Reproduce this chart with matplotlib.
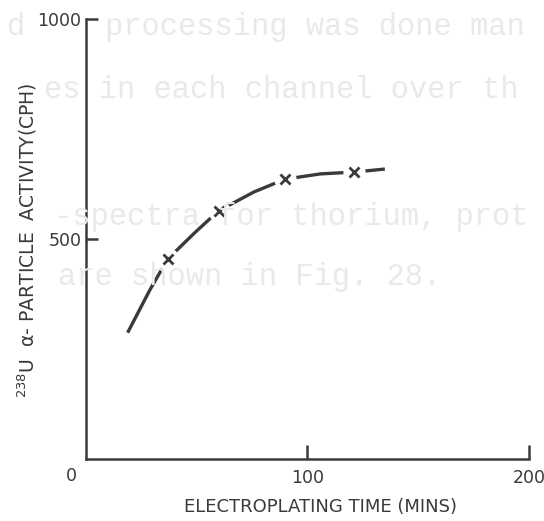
import matplotlib
matplotlib.use("Agg")
import matplotlib.pyplot as plt

time_pts = [37, 60, 90, 121]
activity_pts = [454, 564, 636, 652]
curve_time = [19, 29, 37, 49, 60, 76, 90, 106, 121, 135]
curve_activity = [287, 384, 454, 513, 564, 607, 636, 648, 652, 659]
xticks = [100, 200]
yticks = [500, 1000]

# faint bleed-through text from the other side of the page
ghost_lines = [
    (7, 27, "d"),
    (105, 27, "processing was done man"),
    (44, 90, "es in each channel over th"),
    (54, 217, "-spectra for thorium, prot"),
    (58, 277, "are shown in Fig. 28."),
]

W, H = 544, 521
INK = "#3a3a3a"

plt.rcParams["font.family"] = ["DejaVu Sans"]
fig = plt.figure(figsize=(W / 100, H / 100), dpi=100)
fig.patch.set_facecolor("white")

for px, py, s in ghost_lines:
    fig.text(px / W, 1 - py / H, s, family="Liberation Mono", fontsize=22,
             color="#e9e9e9", ha="left", va="center", zorder=0)

ax = fig.add_axes([85.5 / W, 1 - 459 / H, (529 - 85.5) / W, (459 - 19) / H])
ax.patch.set_alpha(0)
ax.set_xlim(0, 200)
ax.set_ylim(0, 1000)

ax.plot(curve_time, curve_activity, color=INK, lw=2.4, solid_capstyle="butt", zorder=2)
ax.plot(time_pts, activity_pts, ls="none", marker="o", ms=16, mfc="white",
        mec="none", zorder=3)
ax.plot(time_pts, activity_pts, ls="none", marker="x", ms=7.5, mew=2,
        color=INK, zorder=4)

for side in ("top", "right"):
    ax.spines[side].set_visible(False)
for side in ("left", "bottom"):
    ax.spines[side].set_linewidth(1.8)
    ax.spines[side].set_color(INK)

ax.set_xticks(xticks)
ax.set_yticks(yticks)
ax.tick_params(axis="x", direction="in", length=10, width=1.8, color=INK,
               pad=7, labelsize=12.5, labelcolor=INK)
ax.tick_params(axis="y", direction="in", length=8.5, width=1.8, color=INK,
               pad=3, labelsize=12.5, labelcolor=INK)
ax.text(-6.5, -39, "0", ha="center", va="center", fontsize=12.5, color=INK,
        clip_on=False)

fig.text(27 / W, 1 - 240 / H, r"$^{238}$U  α- PARTICLE  ACTIVITY(CPH)",
         rotation=90, ha="center", va="center", fontsize=13.5, color=INK)
fig.text(321 / W, 1 - 507 / H, "ELECTROPLATING TIME (MINS)",
         ha="center", va="center", fontsize=13, color=INK)

fig.savefig("out.png", dpi=100, facecolor="white")
